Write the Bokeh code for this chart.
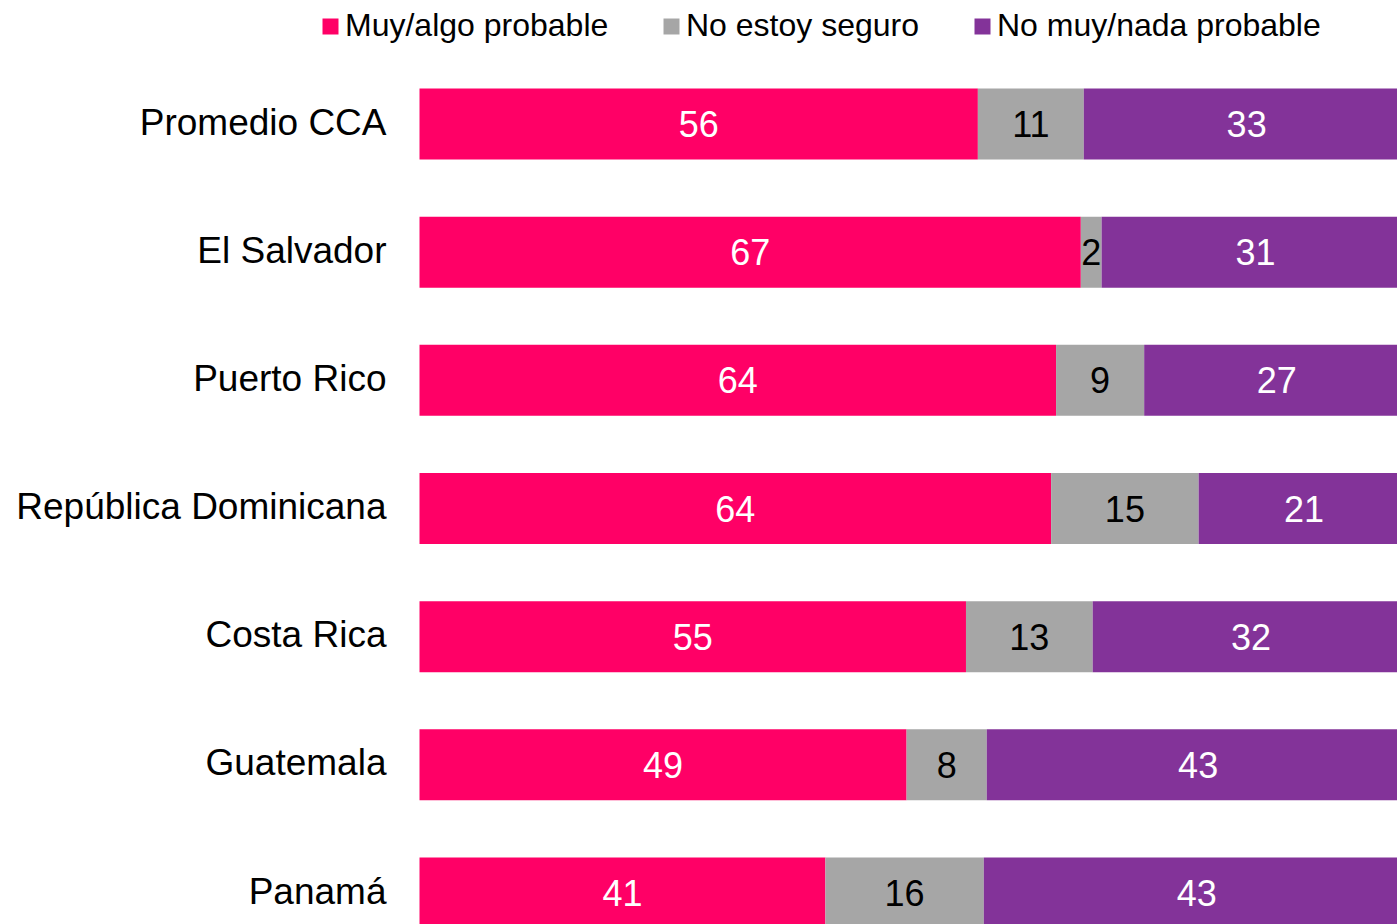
from bokeh.plotting import figure
from bokeh.models import ColumnDataSource, Range1d, Legend, LegendItem
from bokeh.core.properties import value
from bokeh.embed import file_html
from bokeh.resources import INLINE

countries = ["Promedio CCA", "El Salvador", "Puerto Rico", "República Dominicana",
             "Costa Rica", "Guatemala", "Panamá"]
likely = [56.4, 66.8, 64.3, 63.8, 55.2, 49.2, 41.0]
unsure = [10.7, 2.1, 8.9, 14.9, 12.8, 8.1, 16.0]
unlikely = [32.9, 31.1, 26.8, 21.3, 32.0, 42.7, 43.0]
series_names = ["Muy/algo probable", "No estoy seguro", "No muy/nada probable"]
colors = ["#FF0066", "#A6A6A6", "#833399"]
label_colors = ["white", "black", "white"]

FONT = "Liberation Sans"
PX_PER_UNIT = 9.9          # bar scale: pixels per percentage point
LEFT_PAD = 419             # pixels reserved for the category labels
W, H = 1397, 924

ys = list(range(len(countries)))
src = ColumnDataSource(dict(y=ys, likely=likely, unsure=unsure, unlikely=unlikely))

p = figure(width=W, height=H, output_backend="svg", toolbar_location=None,
           x_range=Range1d(-LEFT_PAD / PX_PER_UNIT, (W - LEFT_PAD) / PX_PER_UNIT),
           y_range=Range1d(6.2456, -0.9636),
           min_border_left=0, min_border_right=0, min_border_top=0, min_border_bottom=0)
p.outline_line_color = None
p.xgrid.visible = False
p.ygrid.visible = False
p.xaxis.visible = False
p.yaxis.visible = False

renderers = p.hbar_stack(["likely", "unsure", "unlikely"], y="y", height=0.554,
                         color=colors, source=src, line_color=None)

# category labels, right-aligned just left of the bars
csrc = ColumnDataSource(dict(x=[-33 / PX_PER_UNIT] * len(countries), y=ys, t=countries))
p.text(x="x", y="y", text="t", source=csrc, text_align="right", text_baseline="middle",
       text_font=value(FONT), text_font_size="37px", text_color="black", y_offset=-2)

# segment labels
series = [likely, unsure, unlikely]
lx, ly, lt, lc = [], [], [], []
for i in range(len(countries)):
    left = 0.0
    for s, col in zip(series, label_colors):
        v = s[i]
        lx.append(left + v / 2)
        ly.append(i)
        lt.append(f"{v:.0f}")
        lc.append(col)
        left += v
lsrc = ColumnDataSource(dict(x=lx, y=ly, t=lt, c=lc))
p.text(x="x", y="y", text="t", text_color="c", source=lsrc, text_align="center",
       text_baseline="middle", text_font=value(FONT), text_font_size="36px")

xs = [320, 661, 972]
for r, name, x in zip(renderers, series_names, xs):
    lg = Legend(items=[LegendItem(label=name, renderers=[r])], location=(x, 880),
                orientation="horizontal", glyph_width=20, glyph_height=20,
                label_standoff=5, padding=0, margin=0, border_line_color=None,
                background_fill_alpha=0, label_text_font=FONT,
                label_text_font_size="32px", label_text_color="black")
    p.add_layout(lg, "center")

open("out.html", "w").write(file_html(p, INLINE))
